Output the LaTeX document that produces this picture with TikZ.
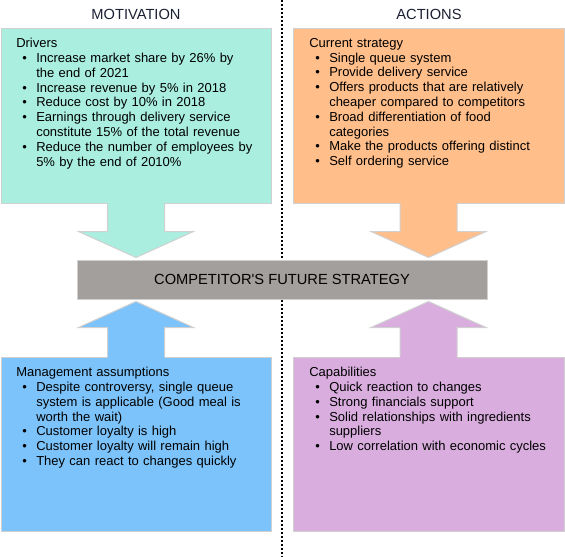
\documentclass[tikz,border=0pt]{standalone}
\usepackage{fontspec}
\setmainfont{Liberation Sans}[Ligatures=TeXOff]
\usetikzlibrary{calc}

\definecolor{drvfill}{HTML}{A9EEDF}
\definecolor{stratfill}{HTML}{FFBE8A}
\definecolor{asmfill}{HTML}{7CC3FB}
\definecolor{capfill}{HTML}{D9AEDF}
\definecolor{futfill}{HTML}{A39F9C}
\definecolor{edgegray}{HTML}{D0D0D0}
\definecolor{headink}{HTML}{1C2033}

\newenvironment{dotlist}{\begin{list}{\textbullet}{%
  \setlength{\leftmargin}{15pt}\setlength{\labelsep}{7pt}%
  \setlength{\labelwidth}{8pt}\setlength{\topsep}{0pt}%
  \setlength{\partopsep}{0pt}\setlength{\itemsep}{0pt}%
  \setlength{\parsep}{0pt}}}{\end{list}}

\begin{document}
\begin{tikzpicture}[x=0.75pt,y=-0.75pt,
    block/.style={rectangle,draw=edgegray,line width=0.75pt,inner sep=0pt},
    blocktext/.style={anchor=north west,inner sep=0pt,align=left,
      font=\fontsize{9.75pt}{11.1pt}\selectfont},
    heading/.style={inner sep=0pt,text=headink,font=\fontsize{11pt}{13pt}\selectfont},
    divider/.style={line width=1.5pt,dash pattern=on 1.5pt off 1.5pt}]
        \useasboundingbox (0,0) rectangle (565,557);
        \coordinate (topmid) at (282,0);
        \coordinate (botmid) at (282,557);
        \draw[divider] (topmid) -- (botmid);
        \node [heading] (motivation) at (136,14) {MOTIVATION};
        \node [heading] (actions) at (429,14) {ACTIONS};
        \node [block,fill=drvfill,minimum width=202.5pt,minimum height=131.25pt] (drivers) at (136,115.5) {};
        \node [block,fill=stratfill,minimum width=203.25pt,minimum height=131.25pt] (strategy) at (428.5,115.5) {};
        \node [block,fill=asmfill,minimum width=202.5pt,minimum height=130.5pt] (assumptions) at (136,444) {};
        \node [block,fill=capfill,minimum width=203.25pt,minimum height=130.5pt] (capabilities) at (428.5,444) {};
        \node [block,fill=futfill,minimum width=307.5pt,minimum height=29.25pt,
          font=\fontsize{11pt}{13pt}\selectfont] (future) at (282,279.5) {COMPETITOR'S FUTURE STRATEGY};
        \foreach \src/\anc/\tgt/\col/\d in {drivers/south/north/drvfill/1,
            strategy/south/north/stratfill/1,
            assumptions/north/south/asmfill/-1,
            capabilities/north/south/capfill/-1} {
          \coordinate (s) at (\src.\anc);
          \coordinate (t) at ($(\src.\anc |- future.\tgt)+(0,-2*\d)$);
          \fill[\col] ($(s)+(-28.5,-1.5*\d)$) -- ($(t)+(-28.5,-26*\d)$) -- ($(t)+(-57.5,-26*\d)$) -- (t)
            -- ($(t)+(57.5,-26*\d)$) -- ($(t)+(28.5,-26*\d)$) -- ($(s)+(28.5,-1.5*\d)$) -- cycle;
          \draw[edgegray,line width=0.75pt,line join=miter] (s) ++(-28.5,0) -- ($(t)+(-28.5,-26*\d)$) -- ($(t)+(-57.5,-26*\d)$) -- (t)
            -- ($(t)+(57.5,-26*\d)$) -- ($(t)+(28.5,-26*\d)$) -- ($(s)+(28.5,0)$);
        }
        \node [blocktext,text width=187pt] (drvtext) at (16,38) {Drivers
          \begin{dotlist}
            \item Increase market share by 26\% by\newline the end of 2021
            \item Increase revenue by 5\% in 2018
            \item Reduce cost by 10\% in 2018
            \item Earnings through delivery service\newline constitute 15\% of the total revenue
            \item Reduce the number of employees by\newline 5\% by the end of 2010\%
          \end{dotlist}};
        \node [blocktext,text width=187pt] (strattext) at (309,38) {Current strategy
          \begin{dotlist}
            \item Single queue system
            \item Provide delivery service
            \item Offers products that are relatively\newline cheaper compared to competitors
            \item Broad differentiation of food\newline categories
            \item Make the products offering distinct
            \item Self ordering service
          \end{dotlist}};
        \node [blocktext,text width=187pt] (asmtext) at (16,367) {Management assumptions
          \begin{dotlist}
            \item Despite controversy, single queue\newline system is applicable (Good meal is\newline worth the wait)
            \item Customer loyalty is high
            \item Customer loyalty will remain high
            \item They can react to changes quickly
          \end{dotlist}};
        \node [blocktext,text width=187pt] (captext) at (309,367) {Capabilities
          \begin{dotlist}
            \item Quick reaction to changes
            \item Strong financials support
            \item Solid relationships with ingredients\newline suppliers
            \item Low correlation with economic cycles
          \end{dotlist}};
\end{tikzpicture}
\end{document}
